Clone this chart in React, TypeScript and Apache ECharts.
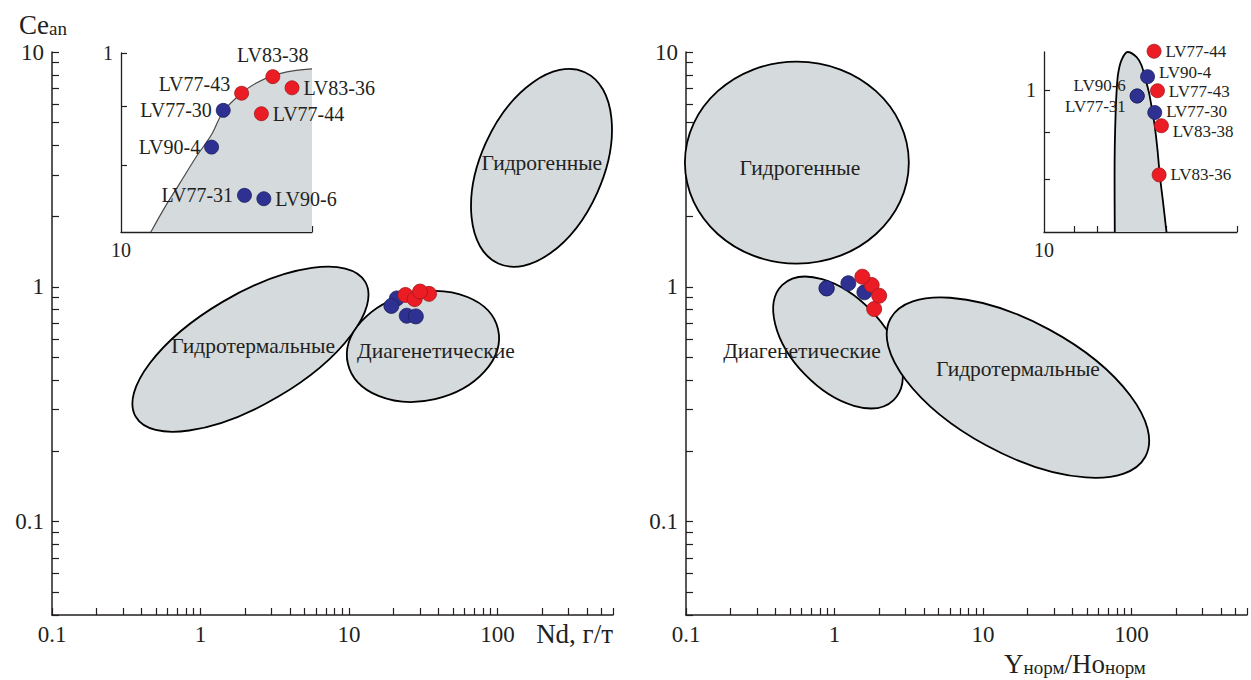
import React, { useEffect, useRef } from "react";
import * as echarts from "echarts";

// ---------------- data ----------------
const blueNames = ["LV77-30", "LV77-31", "LV90-4", "LV90-6"];
const redNames = ["LV77-43", "LV77-44", "LV83-36", "LV83-38"];

// Left panel: Nd (г/т) vs Ce_an
const ndBlue = [21.0, 24.5, 19.3, 28.2];
const ceNdBlue = [0.892, 0.753, 0.829, 0.748];
const ndRed = [24.0, 27.7, 34.6, 30.1];
const ceNdRed = [0.923, 0.886, 0.933, 0.954];

// Right panel: Y_норм/Ho_норм vs Ce_an
const yhoBlue = [1.59, 0.885, 1.24, 0.885];
const ceYhoBlue = [0.947, 0.985, 1.035, 0.985];
const yhoRed = [1.78, 1.54, 1.85, 2.0];
const ceYhoRed = [1.018, 1.104, 0.804, 0.916];

// Right inset (as drawn in the inset)
const yhoInsetBlue = [55.8, 42.5, 49.9, 42.5];
const ceInsetBlue = [0.945, 0.985, 1.034, 0.985];
const yhoInsetRed = [58.2, 55.2, 59.7, 61.9];
const ceInsetRed = [0.998, 1.102, 0.808, 0.914];

// Left inset boundary curve
const leftInsetCurveNd = [12.42, 13.77, 15.35, 17.31, 19.3, 21.0, 23.97, 26.7, 30.1, 34.8, 40.0];
const leftInsetCurveCe = [0.7, 0.736, 0.772, 0.814, 0.85, 0.89, 0.923, 0.942, 0.956, 0.965, 0.969];

// Right inset field outline
const rightInsetShapeX = [30.0, 29.9, 30.0, 30.4, 30.9, 31.6, 33.3, 36.6, 42.1, 45.4, 47.8, 51.1, 53.9, 55.8, 58.2, 60.3, 63.5, 66.9];
const rightInsetShapeY = [0.7, 0.799, 0.868, 0.944, 1.0, 1.042, 1.078, 1.1, 1.086, 1.064, 1.034, 0.992, 0.945, 0.913, 0.861, 0.808, 0.754, 0.7];

// Fields (ellipses): centre in data units, semi-axes in x-decades, rotation deg
const leftFieldNames = ["Гидротермальные", "Диагенетические", "Гидрогенные"];
const leftFieldCx = [2.17, 31.5, 198];
const leftFieldCy = [0.542, 0.557, 3.21];
const leftFieldA = [0.896, 0.519, 0.707];
const leftFieldB = [0.37, 0.364, 0.411];
const leftFieldRot = [30.5, 13, 65.7];
const leftLabelX = [2.26, 38.5, 199];
const leftLabelY = [0.56, 0.533, 3.37];

const rightFieldNames = ["Гидрогенные", "Диагенетические", "Гидротермальные"];
const rightFieldCx = [0.558, 1.056, 17.2];
const rightFieldCy = [3.38, 0.579, 0.372];
const rightFieldA = [0.754, 0.539, 0.976];
const rightFieldB = [0.68, 0.31, 0.444];
const rightFieldRot = [0, -46, -28.5];
const rightLabelX = [0.585, 0.604, 17.2];
const rightLabelY = [3.21, 0.533, 0.447];

// Axis ticks / labels
const mainLabelVals = [0.1, 1, 10, 100];
const mainLabelTexts = ["0.1", "1", "10", "100"];
const mainYLabelVals = [0.1, 1, 10];
const mainYLabelTexts = ["0.1", "1", "10"];
const insetXLabelVals = [10];
const insetXLabelTexts = ["10"];
const insetYLabelVals = [1];
const insetYLabelTexts = ["1"];
const leftInsetXTicks = [20, 30, 40];
const insetYTicks = [0.8, 0.9, 1];
const rightInsetXTicks = [16, 23, 30, 38, 47, 57, 67, 200];

// ---------------- styles ----------------
const L = (v: number) => Math.log10(v);
const INK = "#231f20";
const FILL = "#d5dadc";
const SERIF = "'Liberation Serif', 'Times New Roman', serif";
const RED = "#ec1c24";
const RED_EDGE = "#a01a1f";
const BLUE = "#2e3192";
const BLUE_EDGE = "#1c1f5c";

type LabelLayout = Record<string, { pos: string; off: number[] }>;

const leftInsetLabelLayout: LabelLayout = {
  "LV83-38": { pos: "top", off: [0, 0] },
  "LV83-36": { pos: "right", off: [0, 0] },
  "LV77-43": { pos: "left", off: [0, -9] },
  "LV77-44": { pos: "right", off: [0, 0] },
  "LV77-30": { pos: "left", off: [0, 0] },
  "LV90-4": { pos: "left", off: [0, 0] },
  "LV77-31": { pos: "left", off: [0, 0] },
  "LV90-6": { pos: "right", off: [0, 0] },
};
const rightInsetLabelLayout: LabelLayout = {
  "LV77-44": { pos: "right", off: [0, 0] },
  "LV90-4": { pos: "right", off: [0, -4] },
  "LV77-43": { pos: "right", off: [0, 1] },
  "LV90-6": { pos: "left", off: [0, -10] },
  "LV77-31": { pos: "left", off: [0, 11] },
  "LV77-30": { pos: "right", off: [0, -1] },
  "LV83-38": { pos: "right", off: [0, 6] },
  "LV83-36": { pos: "right", off: [0, 0] },
};

function decadeTicks(min: number, max: number): number[] {
  const out: number[] = [];
  for (let e = Math.floor(L(min)) - 1; e <= Math.ceil(L(max)); e++) {
    for (let m = 1; m <= 9; m++) {
      const v = m * Math.pow(10, e);
      if (v >= min * 0.9999 && v <= max * 1.0001) out.push(v);
    }
  }
  return out;
}

function makeAxis(
  dim: "x" | "y",
  gridIndex: number,
  min: number,
  max: number,
  ticks: number[],
  labelVals: number[],
  labelTexts: string[],
  fontSize: number,
  tickLen: number,
  lineWidth: number
) {
  const lv = labelVals.map(L);
  return {
    type: "value",
    gridIndex,
    position: dim === "x" ? "bottom" : "left",
    min: L(min),
    max: L(max),
    axisLine: { show: true, onZero: false, lineStyle: { color: INK, width: lineWidth } },
    axisTick: {
      show: true,
      inside: true,
      length: tickLen,
      customValues: ticks.map(L),
      lineStyle: { color: INK, width: 1.2 },
    },
    axisLabel: {
      show: true,
      customValues: lv,
      formatter: (v: number) => {
        const i = lv.findIndex((x) => Math.abs(x - v) < 1e-6);
        return i >= 0 ? labelTexts[i] : "";
      },
      color: INK,
      fontFamily: SERIF,
      fontSize,
      margin: 8,
    },
    splitLine: { show: false },
  };
}

function points(xs: number[], ys: number[], names: string[], layout?: LabelLayout) {
  return xs.map((x, i) => {
    const item: any = { name: names[i], value: [L(x), L(ys[i])] };
    if (layout) {
      const lp = layout[names[i]];
      item.label = { position: lp.pos, offset: lp.off };
    }
    return item;
  });
}

function fieldSeries(idx: number, cx: number[], cy: number[], a: number[], b: number[], rot: number[]) {
  return {
    type: "custom",
    xAxisIndex: idx,
    yAxisIndex: idx,
    z: 1,
    silent: true,
    data: cx.map((x, i) => [L(x), L(cy[i])]),
    renderItem: (params: any, api: any) => {
      const i = params.dataIndex;
      const c = api.coord([api.value(0), api.value(1)]);
      const ppd = api.size([1, 0])[0];
      return {
        type: "ellipse",
        x: c[0],
        y: c[1],
        rotation: (rot[i] * Math.PI) / 180,
        shape: { cx: 0, cy: 0, rx: a[i] * ppd, ry: b[i] * ppd },
        style: { fill: FILL, stroke: "#000", lineWidth: 1.8 },
      };
    },
  };
}

function fieldLabelSeries(idx: number, names: string[], lx: number[], ly: number[]) {
  return {
    type: "custom",
    xAxisIndex: idx,
    yAxisIndex: idx,
    z: 4,
    silent: true,
    data: lx.map((x, i) => [L(x), L(ly[i])]),
    renderItem: (params: any, api: any) => {
      const i = params.dataIndex;
      const c = api.coord([api.value(0), api.value(1)]);
      return {
        type: "text",
        x: c[0],
        y: c[1],
        style: {
          text: names[i],
          fill: INK,
          fontSize: 21.5,
          fontFamily: SERIF,
          align: "center",
          verticalAlign: "middle",
        },
      };
    },
  };
}

function scatter(idx: number, data: any[], color: string, edge: string, size: number, labelSize: number) {
  return {
    type: "scatter",
    xAxisIndex: idx,
    yAxisIndex: idx,
    z: 5,
    clip: false,
    symbol: "circle",
    symbolSize: size,
    itemStyle: { color, borderColor: edge, borderWidth: 0.8, opacity: 1 },
    label: labelSize > 0
      ? { show: true, formatter: "{b}", color: INK, fontFamily: SERIF, fontSize: labelSize, distance: 4 }
      : { show: false },
    data,
  };
}

export default function App() {
  const ref = useRef<HTMLDivElement>(null);
  useEffect(() => {
    if (!ref.current) return;
    const chart = echarts.init(ref.current, null, { renderer: "svg" });
    const mainXTicks = decadeTicks(0.1, 600);
    const mainYTicks = decadeTicks(0.04, 10);

    const option: any = {
      animation: false,
      backgroundColor: "#ffffff",
      grid: [
        { left: 52, top: 52, width: 561, height: 563 },
        { left: 121, top: 53, width: 191, height: 179 },
        { left: 686, top: 52, width: 561, height: 563 },
        { left: 1044, top: 52, width: 193, height: 180 },
      ],
      xAxis: [
        makeAxis("x", 0, 0.1, 600, mainXTicks, mainLabelVals, mainLabelTexts, 23, 7, 1.5),
        makeAxis("x", 1, 10, 40, leftInsetXTicks, insetXLabelVals, insetXLabelTexts, 20, 6, 1.3),
        makeAxis("x", 2, 0.1, 600, mainXTicks, mainLabelVals, mainLabelTexts, 23, 7, 1.5),
        makeAxis("x", 3, 10, 200, rightInsetXTicks, insetXLabelVals, insetXLabelTexts, 20, 6, 1.3),
      ],
      yAxis: [
        makeAxis("y", 0, 0.04, 10, mainYTicks, mainYLabelVals, mainYLabelTexts, 23, 7, 1.5),
        makeAxis("y", 1, 0.7, 1, insetYTicks, insetYLabelVals, insetYLabelTexts, 20, 6, 1.3),
        makeAxis("y", 2, 0.04, 10, mainYTicks, mainYLabelVals, mainYLabelTexts, 23, 7, 1.5),
        makeAxis("y", 3, 0.7, 1.1, insetYTicks, insetYLabelVals, insetYLabelTexts, 20, 6, 1.3),
      ],
      series: [
        fieldSeries(0, leftFieldCx, leftFieldCy, leftFieldA, leftFieldB, leftFieldRot),
        fieldSeries(2, rightFieldCx, rightFieldCy, rightFieldA, rightFieldB, rightFieldRot),
        fieldLabelSeries(0, leftFieldNames, leftLabelX, leftLabelY),
        fieldLabelSeries(2, rightFieldNames, rightLabelX, rightLabelY),
        {
          type: "line",
          xAxisIndex: 1,
          yAxisIndex: 1,
          z: 2,
          silent: true,
          smooth: 0.3,
          symbol: "none",
          lineStyle: { color: "#4a4a4a", width: 1.2 },
          areaStyle: { color: FILL, opacity: 1, origin: "start" },
          data: leftInsetCurveNd.map((x, i) => [L(x), L(leftInsetCurveCe[i])]),
        },
        {
          type: "line",
          xAxisIndex: 3,
          yAxisIndex: 3,
          z: 2,
          silent: true,
          clip: false,
          smooth: 0.3,
          symbol: "none",
          lineStyle: { color: "#000", width: 1.8 },
          areaStyle: { color: FILL, opacity: 1, origin: "start" },
          data: rightInsetShapeX.map((x, i) => [L(x), L(rightInsetShapeY[i])]),
        },
        scatter(0, points(ndBlue, ceNdBlue, blueNames), BLUE, BLUE_EDGE, 15, 0),
        scatter(0, points(ndRed, ceNdRed, redNames), RED, RED_EDGE, 15, 0),
        scatter(2, points(yhoBlue, ceYhoBlue, blueNames), BLUE, BLUE_EDGE, 15, 0),
        scatter(2, points(yhoRed, ceYhoRed, redNames), RED, RED_EDGE, 15, 0),
        scatter(1, points(ndBlue, ceNdBlue, blueNames, leftInsetLabelLayout), BLUE, BLUE_EDGE, 14, 20),
        scatter(1, points(ndRed, ceNdRed, redNames, leftInsetLabelLayout), RED, RED_EDGE, 14, 20),
        scatter(3, points(yhoInsetBlue, ceInsetBlue, blueNames, rightInsetLabelLayout), BLUE, BLUE_EDGE, 14, 17),
        scatter(3, points(yhoInsetRed, ceInsetRed, redNames, rightInsetLabelLayout), RED, RED_EDGE, 14, 17),
      ],
      graphic: [
        {
          type: "text",
          x: 19,
          y: 8,
          style: {
            text: "{n|Ce}{s|an}",
            rich: {
              n: { fontSize: 27, fontFamily: SERIF, fill: INK, lineHeight: 30, verticalAlign: "bottom" },
              s: { fontSize: 19, fontFamily: SERIF, fill: INK, lineHeight: 10, verticalAlign: "bottom" },
            },
          },
        },
        {
          type: "text",
          x: 613,
          y: 634,
          style: {
            text: "Nd, г/т",
            fill: INK,
            fontSize: 27,
            fontFamily: SERIF,
            align: "right",
            verticalAlign: "middle",
          },
        },
        {
          type: "text",
          x: 1075,
          y: 662,
          style: {
            text: "{n|Y}{s|норм}{n|/Ho}{s|норм}",
            align: "center",
            verticalAlign: "middle",
            rich: {
              n: { fontSize: 27, fontFamily: SERIF, fill: INK, lineHeight: 30, verticalAlign: "bottom" },
              s: { fontSize: 19, fontFamily: SERIF, fill: INK, lineHeight: 10, verticalAlign: "bottom" },
            },
          },
        },
      ],
    };
    chart.setOption(option);
    return () => chart.dispose();
  }, []);
  return (
    <div
      ref={ref}
      style={{ position: "absolute", left: 0, top: 0, width: 1251, height: 680, background: "#fff" }}
    />
  );
}
